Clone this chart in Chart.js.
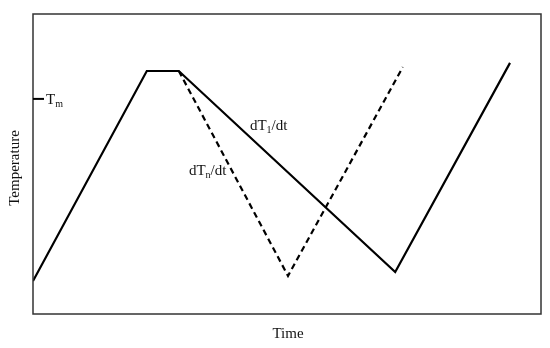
<!DOCTYPE html>
<html>
<head>
<meta charset="utf-8">
<script src="https://cdn.jsdelivr.net/npm/chart.js@4/dist/chart.umd.min.js"></script>
<style>
  html, body { margin: 0; padding: 0; background: #fff; }
  #wrap { width: 550px; height: 348px; }
</style>
</head>
<body>
<div id="wrap"><canvas id="chart" width="550" height="348"></canvas></div>
<script>
// Cooling / heating profile (arbitrary units)
const solidTime = [0, 22.4, 28.7, 71.3, 93.9];
const solidTemp = [11, 81, 81, 14, 83.7];
const dashedTime = [28.7, 50.2, 72.8];
const dashedTemp = [81, 12.7, 82.3];
const meltTemp = 71.7;

const toPoints = (xs, ys) => xs.map((x, i) => ({ x: x, y: ys[i] }));

const serif = '"Liberation Serif", "Times New Roman", serif';

// frame, Tm marker, axis titles and slope labels
const decorations = {
    id: 'decorations',
    afterDraw(chart) {
        const { ctx, chartArea: a, scales } = chart;
        const xs = scales.x, ys = scales.y;
        ctx.save();

        ctx.strokeStyle = '#333';
        ctx.lineWidth = 1.5;
        ctx.strokeRect(a.left, a.top, a.right - a.left, a.bottom - a.top);

        // Tm marker
        const ty = ys.getPixelForValue(meltTemp);
        ctx.strokeStyle = '#000';
        ctx.lineWidth = 2;
        ctx.beginPath();
        ctx.moveTo(a.left, ty);
        ctx.lineTo(a.left + 11, ty);
        ctx.stroke();

        ctx.fillStyle = '#111';
        ctx.textBaseline = 'alphabetic';
        ctx.textAlign = 'left';

        function sub(text, subText, x, y) {
            ctx.font = '15px ' + serif;
            ctx.fillText(text, x, y);
            const w = ctx.measureText(text).width;
            ctx.font = '10px ' + serif;
            ctx.fillText(subText, x + w, y + 3);
            return x + w + ctx.measureText(subText).width;
        }

        sub('T', 'm', a.left + 13, ty + 5);

        let x1 = sub('dT', '1', xs.getPixelForValue(42.7), ys.getPixelForValue(63) + 5);
        ctx.font = '15px ' + serif;
        ctx.fillText('/dt', x1, ys.getPixelForValue(63) + 5);

        let x2 = sub('dT', 'n', xs.getPixelForValue(30.7), ys.getPixelForValue(48) + 5);
        ctx.font = '15px ' + serif;
        ctx.fillText('/dt', x2, ys.getPixelForValue(48) + 5);

        // axis titles
        ctx.font = '15px ' + serif;
        ctx.textAlign = 'center';
        ctx.fillText('Time', (a.left + a.right) / 2 + 1, a.bottom + 24);

        ctx.translate(19, (a.top + a.bottom) / 2 + 4);
        ctx.rotate(-Math.PI / 2);
        ctx.fillText('Temperature', 0, 0);

        ctx.restore();
    }
};

new Chart(document.getElementById('chart'), {
    type: 'scatter',
    data: {
        datasets: [{
            label: 'dT1/dt',
            data: toPoints(solidTime, solidTemp),
            showLine: true,
            borderColor: '#000',
            borderWidth: 2.2,
            pointRadius: 0,
            fill: false
        }, {
            label: 'dTn/dt',
            data: toPoints(dashedTime, dashedTemp),
            showLine: true,
            borderColor: '#000',
            borderWidth: 2.2,
            borderDash: [6, 4],
            pointRadius: 0,
            fill: false
        }]
    },
    options: {
        responsive: false,
        animation: false,
        layout: { padding: { left: 33, top: 14, right: 9, bottom: 34 } },
        plugins: {
            legend: { display: false },
            tooltip: { enabled: false }
        },
        scales: {
            x: { type: 'linear', min: 0, max: 100, display: false },
            y: { type: 'linear', min: 0, max: 100, display: false }
        }
    },
    plugins: [decorations]
});
</script>
</body>
</html>
